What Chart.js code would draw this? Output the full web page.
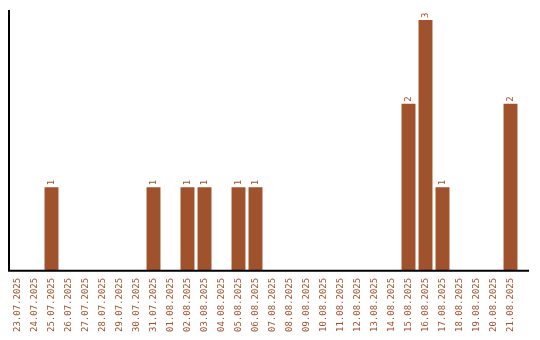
<!DOCTYPE html>
<html>
<head>
<meta charset="utf-8">
<script src="https://cdn.jsdelivr.net/npm/chart.js@4/dist/chart.umd.min.js"></script>
<style>
  html, body { margin: 0; padding: 0; background: #fff; }
  #wrap { width: 540px; height: 340px; }
</style>
</head>
<body>
<div id="wrap"><canvas id="myChart"></canvas></div>
<script>
// dates shown on the x axis
const days = ['23.07.2025', '24.07.2025', '25.07.2025', '26.07.2025', '27.07.2025', '28.07.2025',
  '29.07.2025', '30.07.2025', '31.07.2025', '01.08.2025', '02.08.2025', '03.08.2025',
  '04.08.2025', '05.08.2025', '06.08.2025', '07.08.2025', '08.08.2025', '09.08.2025',
  '10.08.2025', '11.08.2025', '12.08.2025', '13.08.2025', '14.08.2025', '15.08.2025',
  '16.08.2025', '17.08.2025', '18.08.2025', '19.08.2025', '20.08.2025', '21.08.2025'];

// count per day
const counts = [0, 0, 1, 0, 0, 0, 0, 0, 1, 0, 1, 1, 0, 1, 1, 0, 0, 0, 0, 0, 0, 0, 0, 2, 3, 1, 0, 0, 0, 2];

const barColor = '#A0522D';
const labelFont = '9px "DejaVu Sans Mono", monospace';

// draws the value above each bar, rotated like the axis labels
const valueLabels = {
  id: 'valueLabels',
  afterDatasetsDraw(chart) {
    const ctx = chart.ctx;
    const meta = chart.getDatasetMeta(0);
    ctx.save();
    ctx.fillStyle = barColor;
    ctx.font = labelFont;
    meta.data.forEach((bar, i) => {
      const v = chart.data.datasets[0].data[i];
      if (!v) return;
      ctx.save();
      ctx.translate(bar.x, bar.y - 2);
      ctx.rotate(-Math.PI / 2);
      ctx.textAlign = 'left';
      ctx.textBaseline = 'middle';
      ctx.fillText(String(v), 0, 0);
      ctx.restore();
    });
    ctx.restore();
  }
};

// axis lines: the x axis runs a little past the last bar
const axisLines = {
  id: 'axisLines',
  afterDraw(chart) {
    const { ctx, chartArea } = chart;
    ctx.save();
    ctx.strokeStyle = '#000';
    ctx.lineWidth = 2;
    ctx.beginPath();
    ctx.moveTo(chartArea.left, chartArea.top);
    ctx.lineTo(chartArea.left, chartArea.bottom);
    ctx.lineTo(chartArea.right + 10, chartArea.bottom);
    ctx.stroke();
    ctx.restore();
  }
};

const ctx = document.getElementById('myChart').getContext('2d');
const myChart = new Chart(ctx, {
  type: 'bar',
  data: {
    labels: days,
    datasets: [{
      data: counts,
      backgroundColor: barColor,
      borderWidth: 0,
      barPercentage: 0.82,
      categoryPercentage: 1
    }]
  },
  options: {
    responsive: true,
    maintainAspectRatio: false,
    animation: false,
    layout: { padding: { left: 9, right: 21, top: 10, bottom: 1 } },
    plugins: {
      legend: { display: false },
      tooltip: { enabled: false }
    },
    scales: {
      x: {
        grid: { display: false, drawTicks: false },
        border: { display: false },
        ticks: {
          autoSkip: false,
          maxRotation: 90,
          minRotation: 90,
          padding: 7,
          color: barColor,
          font: { family: '"DejaVu Sans Mono", monospace', size: 9 }
        }
      },
      y: {
        min: 0,
        max: Math.max(...counts) * 1.04,
        grid: { display: false, drawTicks: false },
        border: { display: false },
        ticks: { display: false }
      }
    }
  },
  plugins: [valueLabels, axisLines]
});
</script>
</body>
</html>
